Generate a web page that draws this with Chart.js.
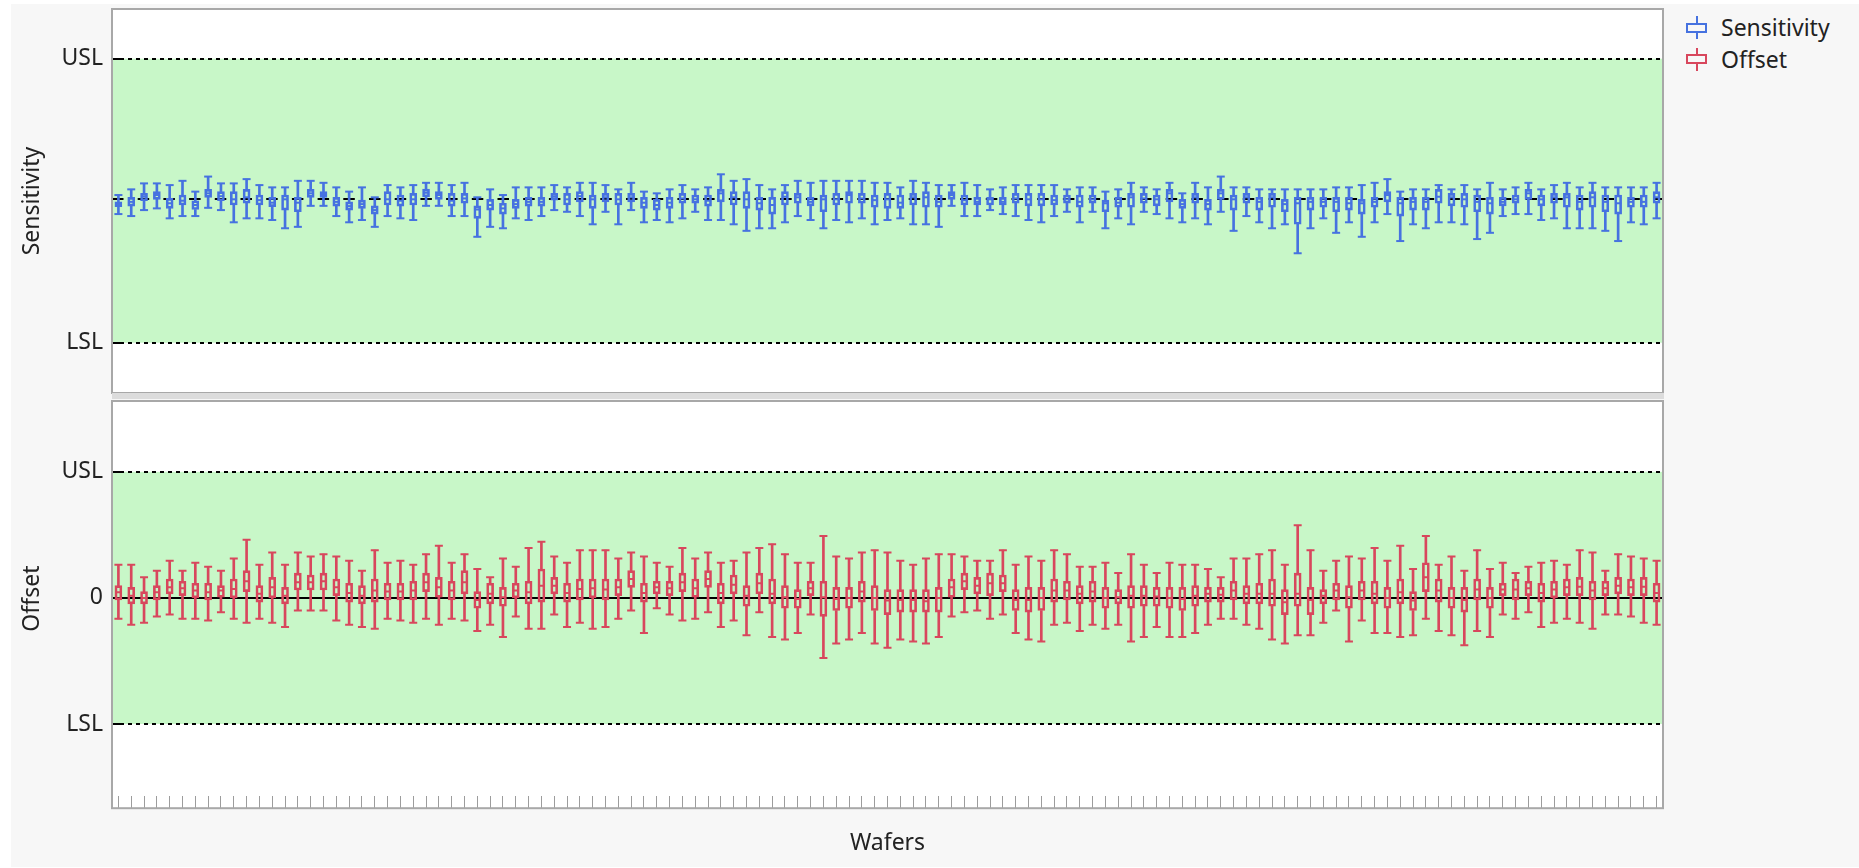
<!DOCTYPE html>
<html>
<head>
<meta charset="utf-8">
<title>Sensitivity / Offset by wafer</title>
<script src="https://cdn.jsdelivr.net/npm/chart.js@4.4.1/dist/chart.umd.min.js"></script>
<style>
  html, body { margin: 0; padding: 0; background: #ffffff; }
  body { position: relative; width: 1859px; height: 868px; overflow: hidden; font-family: "Noto Sans", sans-serif; }
  #sheet { position: absolute; left: 11px; top: 4px; width: 1848px; height: 863px; background: #f7f7f7; }
  canvas { position: absolute; left: 0; }
  #chart-sens { top: 0; }
  #chart-off { top: 395px; }
  #legend { position: absolute; left: 1685px; top: 12px; }
  #legend .item { height: 31.5px; display: flex; align-items: center; }
  #legend .icon { position: relative; width: 23px; height: 23px; margin-right: 13px; }
  #legend .icon::after { content: ""; position: absolute; left: 10.5px; top: 0; width: 2px; height: 23px; background: var(--c); }
  #legend .icon::before { content: ""; position: absolute; left: 1px; top: 6.5px; width: 21px; height: 10px; box-sizing: border-box;
    border: 2px solid var(--c); background: #f7f7f7; z-index: 1; }
  #legend .lbl { font-size: 23px; color: #222; line-height: 1; }
</style>
</head>
<body>
<div id="sheet"></div>
<canvas id="chart-sens" width="1680" height="400"></canvas>
<canvas id="chart-off" width="1680" height="473"></canvas>
<div id="legend"></div>

<script>
// ============================================
// DATA  (box plot per wafer: max, q3, median, q1, min)
// ============================================

const SERIES = ['Sensitivity', 'Offset'];
const SERIES_COLORS = ['#4672E0', '#D8475D'];

// spec limits, [LSL, USL]
const SENS_LIMITS = [-5, 5];
const SENS_TARGET = 0.05;
const OFF_LIMITS = [-10, 10];
const OFF_TARGET = 0;

const SENS_MAX = [
  0.20, 0.40, 0.61, 0.61, 0.55, 0.70, 0.32, 0.85, 0.61, 0.61,
  0.76, 0.55, 0.47, 0.47, 0.70, 0.70, 0.63, 0.47, 0.32, 0.47,
  0.12, 0.55, 0.47, 0.55, 0.63, 0.63, 0.55, 0.63, 0.12, 0.40,
  0.20, 0.47, 0.47, 0.47, 0.55, 0.47, 0.63, 0.63, 0.55, 0.40,
  0.63, 0.32, 0.26, 0.40, 0.55, 0.40, 0.47, 0.93, 0.70, 0.76,
  0.55, 0.40, 0.55, 0.70, 0.63, 0.70, 0.70, 0.70, 0.70, 0.63,
  0.63, 0.47, 0.70, 0.63, 0.55, 0.55, 0.63, 0.55, 0.40, 0.47,
  0.55, 0.55, 0.55, 0.55, 0.40, 0.47, 0.47, 0.32, 0.40, 0.63,
  0.47, 0.40, 0.63, 0.26, 0.63, 0.47, 0.85, 0.47, 0.47, 0.40,
  0.40, 0.40, 0.40, 0.40, 0.40, 0.47, 0.47, 0.55, 0.63, 0.76,
  0.32, 0.40, 0.40, 0.55, 0.40, 0.55, 0.40, 0.63, 0.40, 0.47,
  0.63, 0.40, 0.55, 0.63, 0.47, 0.63, 0.47, 0.47, 0.47, 0.47, 0.63
];
const SENS_Q3 = [
  -0.04, 0.12, 0.26, 0.32, 0.08, 0.20, 0.00, 0.40, 0.32, 0.32,
  0.40, 0.20, 0.12, 0.20, 0.12, 0.40, 0.32, 0.12, -0.04, 0.02,
  -0.18, 0.32, 0.20, 0.26, 0.41, 0.32, 0.26, 0.26, -0.18, 0.05,
  -0.09, 0.05, 0.12, 0.12, 0.26, 0.26, 0.32, 0.20, 0.26, 0.26,
  0.26, 0.12, 0.05, 0.12, 0.26, 0.20, 0.20, 0.40, 0.32, 0.32,
  0.12, 0.12, 0.32, 0.26, 0.12, 0.20, 0.26, 0.32, 0.26, 0.20,
  0.26, 0.20, 0.26, 0.32, 0.20, 0.32, 0.20, 0.12, 0.12, 0.12,
  0.26, 0.26, 0.26, 0.20, 0.20, 0.20, 0.20, 0.02, 0.12, 0.26,
  0.26, 0.20, 0.40, 0.05, 0.26, 0.05, 0.40, 0.20, 0.26, 0.12,
  0.26, 0.05, 0.12, 0.12, 0.12, 0.12, 0.12, 0.05, 0.12, 0.32,
  0.12, 0.12, 0.12, 0.40, 0.26, 0.26, 0.20, 0.12, 0.12, 0.20,
  0.40, 0.20, 0.26, 0.26, 0.20, 0.32, 0.20, 0.20, 0.12, 0.20, 0.32
];
const SENS_MED = [
  -0.12, -0.04, 0.14, 0.20, -0.09, 0.00, -0.15, 0.26, 0.16, 0.05,
  0.12, 0.02, -0.07, 0.05, -0.07, 0.26, 0.23, -0.04, -0.19, -0.12,
  -0.33, 0.05, 0.00, 0.05, 0.28, 0.20, 0.00, 0.08, -0.31, -0.15,
  -0.27, -0.12, -0.04, -0.04, 0.14, 0.05, 0.16, 0.05, 0.12, 0.05,
  0.12, -0.07, -0.15, -0.07, 0.08, 0.05, 0.00, 0.26, 0.12, 0.05,
  -0.09, -0.15, 0.14, 0.12, -0.04, 0.05, 0.05, 0.20, 0.08, 0.02,
  0.05, -0.07, 0.12, 0.12, -0.04, 0.20, 0.02, -0.04, 0.05, -0.04,
  0.08, 0.05, 0.05, 0.02, 0.05, -0.04, 0.05, -0.09, -0.07, 0.12,
  0.08, 0.05, 0.26, -0.12, 0.12, -0.12, 0.26, 0.05, 0.12, -0.04,
  0.12, -0.12, -0.09, -0.04, -0.04, -0.04, -0.09, -0.09, -0.04, 0.20,
  -0.09, -0.04, -0.04, 0.14, 0.12, 0.05, -0.04, -0.09, -0.04, 0.05,
  0.26, 0.05, 0.12, 0.12, -0.04, 0.12, -0.04, -0.09, -0.04, -0.04, 0.12
];
const SENS_Q1 = [
  -0.21, -0.19, 0.00, 0.05, -0.27, -0.15, -0.31, 0.12, 0.00, -0.15,
  -0.09, -0.15, -0.21, -0.33, -0.39, 0.12, 0.12, -0.19, -0.33, -0.27,
  -0.47, -0.15, -0.19, -0.15, 0.14, 0.05, -0.19, -0.09, -0.62, -0.33,
  -0.47, -0.27, -0.19, -0.19, 0.02, -0.15, -0.04, -0.27, -0.04, -0.15,
  -0.04, -0.27, -0.33, -0.27, -0.09, -0.09, -0.19, -0.04, -0.15, -0.27,
  -0.33, -0.47, -0.15, -0.09, -0.18, -0.39, -0.15, -0.09, -0.09, -0.23,
  -0.27, -0.27, -0.15, -0.23, -0.23, 0.05, -0.15, -0.15, -0.15, -0.15,
  -0.09, -0.18, -0.18, -0.15, -0.09, -0.23, -0.09, -0.39, -0.23, -0.23,
  -0.09, -0.18, -0.04, -0.27, -0.09, -0.33, 0.05, -0.33, -0.09, -0.33,
  -0.23, -0.39, -0.83, -0.33, -0.23, -0.39, -0.33, -0.47, -0.23, -0.04,
  -0.54, -0.33, -0.33, -0.09, -0.18, -0.23, -0.39, -0.47, -0.18, -0.09,
  0.05, -0.18, -0.09, -0.23, -0.33, -0.23, -0.39, -0.47, -0.23, -0.23, -0.09
];
const SENS_MIN = [
  -0.47, -0.54, -0.33, -0.27, -0.62, -0.54, -0.54, -0.25, -0.33, -0.76,
  -0.62, -0.62, -0.68, -0.97, -0.92, -0.18, -0.18, -0.54, -0.76, -0.68,
  -0.92, -0.54, -0.62, -0.68, -0.18, -0.18, -0.54, -0.54, -1.27, -0.92,
  -0.97, -0.62, -0.68, -0.54, -0.33, -0.39, -0.54, -0.83, -0.39, -0.83,
  -0.33, -0.76, -0.68, -0.76, -0.62, -0.39, -0.68, -0.68, -0.83, -1.06,
  -0.97, -0.97, -0.76, -0.54, -0.68, -0.97, -0.68, -0.76, -0.62, -0.83,
  -0.68, -0.62, -0.83, -0.83, -0.92, -0.18, -0.54, -0.54, -0.33, -0.47,
  -0.54, -0.68, -0.76, -0.54, -0.39, -0.76, -0.39, -0.97, -0.62, -0.83,
  -0.39, -0.47, -0.62, -0.76, -0.62, -0.83, -0.39, -1.06, -0.54, -0.76,
  -0.97, -0.83, -1.85, -0.97, -0.62, -1.13, -0.76, -1.27, -0.76, -0.47,
  -1.42, -0.83, -0.97, -0.76, -0.76, -0.83, -1.35, -1.13, -0.54, -0.47,
  -0.47, -0.68, -0.62, -0.97, -0.97, -0.97, -1.06, -1.42, -0.76, -0.83, -0.62
];

const OFF_MAX = [
  2.63, 2.63, 1.63, 2.16, 2.95, 2.16, 2.79, 2.47, 2.16, 3.13,
  4.61, 2.63, 3.61, 2.63, 3.61, 3.29, 3.47, 3.29, 2.95, 2.16,
  3.79, 2.79, 2.95, 2.63, 3.47, 4.13, 2.79, 3.47, 2.29, 1.63,
  3.13, 2.47, 3.95, 4.45, 3.29, 2.79, 3.79, 3.79, 3.79, 3.13,
  3.61, 3.29, 2.79, 2.47, 3.95, 3.13, 3.61, 2.79, 2.95, 3.61,
  3.95, 4.26, 3.47, 2.79, 2.79, 4.92, 3.29, 3.13, 3.61, 3.79,
  3.61, 2.95, 2.63, 3.13, 3.47, 3.47, 3.29, 2.95, 2.95, 3.79,
  2.63, 3.29, 2.95, 3.79, 3.47, 2.47, 2.47, 2.79, 1.97, 3.47,
  2.63, 1.97, 2.79, 2.63, 2.63, 2.29, 1.63, 3.13, 3.13, 3.47,
  3.79, 2.63, 5.76, 3.79, 2.16, 2.95, 3.29, 3.13, 3.95, 2.95,
  4.13, 2.29, 4.92, 2.63, 3.29, 2.16, 3.79, 2.29, 2.79, 1.97,
  2.47, 2.79, 2.95, 2.63, 3.79, 3.61, 2.16, 3.47, 3.29, 3.13, 2.95
];
const OFF_Q3 = [
  0.97, 0.84, 0.50, 0.97, 1.50, 1.32, 1.16, 1.16, 0.97, 1.50,
  2.16, 0.97, 1.63, 0.84, 1.97, 1.82, 1.97, 1.50, 1.16, 0.97,
  1.50, 1.16, 1.16, 1.32, 1.97, 1.63, 1.32, 2.16, 0.50, 1.16,
  0.84, 1.16, 1.32, 2.29, 1.63, 1.16, 1.50, 1.50, 1.50, 1.50,
  2.16, 1.16, 1.32, 1.32, 1.97, 1.50, 2.16, 1.16, 1.82, 0.97,
  1.97, 1.50, 0.97, 0.66, 1.32, 1.32, 0.84, 0.84, 1.32, 0.97,
  0.66, 0.66, 0.66, 0.66, 0.84, 1.50, 1.97, 1.63, 1.97, 1.82,
  0.66, 0.84, 0.84, 1.50, 1.32, 0.97, 1.32, 0.84, 0.66, 0.97,
  0.97, 0.84, 0.84, 0.84, 0.97, 0.84, 0.84, 1.32, 0.97, 1.16,
  1.50, 0.66, 1.97, 0.84, 0.66, 1.16, 0.97, 1.32, 1.32, 0.84,
  1.50, 0.50, 2.79, 1.50, 0.84, 0.84, 1.50, 0.84, 1.16, 1.50,
  1.32, 1.16, 1.32, 1.50, 1.63, 1.32, 1.32, 1.63, 1.50, 1.63, 1.16
];
const OFF_MED = [
  0.45, 0.18, 0.00, 0.45, 0.84, 0.76, 0.58, 0.45, 0.58, 0.71,
  1.32, 0.32, 0.84, 0.18, 1.24, 1.24, 1.32, 0.84, 0.39, 0.18,
  0.58, 0.50, 0.50, 0.58, 1.24, 0.84, 0.58, 1.24, -0.16, 0.32,
  0.05, 0.58, 0.45, 0.97, 0.97, 0.39, 0.71, 0.76, 0.66, 0.84,
  1.50, 0.39, 0.84, 0.76, 1.24, 0.76, 1.50, 0.39, 1.05, 0.18,
  1.16, 0.32, 0.05, -0.08, 0.76, 0.05, -0.08, 0.00, 0.50, 0.00,
  -0.21, -0.16, -0.16, -0.26, 0.00, 0.84, 1.32, 0.97, 1.16, 1.16,
  -0.16, -0.16, 0.00, 0.58, 0.58, 0.32, 0.50, 0.00, 0.05, 0.18,
  0.18, 0.11, 0.00, -0.08, 0.18, 0.32, 0.26, 0.58, 0.32, 0.32,
  0.32, -0.34, 0.32, -0.16, 0.18, 0.58, 0.05, 0.58, 0.32, 0.00,
  0.45, -0.21, 1.63, 0.58, 0.00, -0.16, 0.66, 0.00, 0.66, 0.66,
  0.76, 0.39, 0.66, 0.84, 0.89, 0.58, 0.76, 0.97, 0.84, 0.89, 0.39
];
const OFF_Q1 = [
  -0.16, -0.47, -0.47, -0.16, 0.32, 0.18, 0.00, -0.16, 0.05, 0.00,
  0.50, -0.34, 0.00, -0.47, 0.63, 0.63, 0.63, 0.18, -0.34, -0.47,
  -0.34, -0.16, -0.16, -0.16, 0.50, 0.05, -0.16, 0.32, -0.82, -0.47,
  -0.66, 0.00, -0.47, -0.34, 0.32, -0.34, -0.16, 0.00, -0.16, 0.18,
  0.84, -0.34, 0.32, 0.18, 0.50, 0.05, 0.84, -0.47, 0.32, -0.66,
  0.32, -0.47, -0.82, -0.82, 0.18, -1.47, -1.00, -0.82, -0.34, -1.00,
  -1.32, -1.13, -1.13, -1.13, -1.13, 0.05, 0.66, 0.32, 0.18, 0.50,
  -1.00, -1.13, -1.00, -0.34, -0.16, -0.47, -0.34, -0.82, -0.47, -0.82,
  -0.66, -0.66, -0.82, -1.00, -0.66, -0.34, -0.34, -0.16, -0.47, -0.47,
  -0.66, -1.32, -0.66, -1.32, -0.47, -0.16, -0.82, -0.16, -0.47, -0.82,
  -0.47, -1.00, 0.50, -0.34, -0.82, -1.13, -0.16, -0.82, 0.18, -0.16,
  0.18, -0.34, 0.00, 0.18, 0.18, -0.16, 0.18, 0.32, 0.18, 0.18, -0.34
];
const OFF_MIN = [
  -1.66, -2.13, -1.97, -1.47, -1.32, -1.66, -1.66, -1.79, -1.13, -1.66,
  -1.97, -1.66, -1.97, -2.30, -1.00, -1.00, -1.00, -1.79, -2.13, -2.30,
  -2.45, -1.66, -1.79, -1.97, -1.66, -2.13, -1.66, -1.79, -2.63, -2.13,
  -3.11, -1.47, -2.45, -2.45, -1.32, -2.30, -1.97, -2.45, -2.30, -1.66,
  -1.00, -2.79, -0.82, -1.32, -1.79, -1.66, -1.13, -2.30, -1.79, -2.97,
  -1.13, -3.11, -3.29, -2.79, -1.32, -4.76, -3.61, -3.29, -2.79, -3.61,
  -3.95, -3.29, -3.45, -3.61, -3.11, -1.47, -1.13, -1.00, -1.66, -1.32,
  -2.79, -3.29, -3.45, -2.13, -1.97, -2.63, -2.13, -2.45, -2.13, -3.45,
  -3.11, -2.30, -3.11, -3.11, -2.79, -2.13, -1.66, -1.66, -2.13, -2.45,
  -3.29, -3.61, -2.97, -2.97, -1.97, -1.00, -3.45, -1.79, -2.79, -2.79,
  -3.11, -2.97, -1.66, -2.63, -2.97, -3.76, -2.63, -3.11, -1.32, -1.66,
  -1.13, -2.30, -1.97, -1.66, -1.97, -2.45, -1.32, -1.32, -1.47, -1.97, -2.13
];

const WAFERS = SENS_MED.map((_, i) => 'W' + String(i + 1).padStart(3, '0'));

// ============================================
// PANEL DECORATION PLUGIN (spec band, limit lines, frame)
// ============================================

const specPanel = {
  id: 'specPanel',
  beforeDraw(chart, args, o) {
    const { ctx, chartArea: a } = chart;
    const y = chart.scales.y;
    const bottom = a.bottom + o.tickRoom;
    const yu = y.getPixelForValue(o.usl);
    const yl = y.getPixelForValue(o.lsl);
    ctx.save();
    ctx.fillStyle = '#ffffff';
    ctx.fillRect(a.left, a.top, a.width, bottom - a.top);
    ctx.fillStyle = '#c8f7c8';
    ctx.fillRect(a.left, yu, a.width, yl - yu);
    ctx.restore();
  },
  beforeDatasetsDraw(chart, args, o) {
    const { ctx, chartArea: a } = chart;
    const y = chart.scales.y;
    ctx.save();
    ctx.strokeStyle = '#000000';
    ctx.lineWidth = 2;

    // USL / LSL dotted
    ctx.setLineDash([4, 4]);
    [o.usl, o.lsl].forEach(v => {
      const py = Math.round(y.getPixelForValue(v));
      ctx.beginPath();
      ctx.moveTo(a.left, py);
      ctx.lineTo(a.right, py);
      ctx.stroke();
    });

    // target / centre line
    ctx.setLineDash(o.targetDash);
    const pt = Math.round(y.getPixelForValue(o.target));
    ctx.beginPath();
    ctx.moveTo(a.left, pt);
    ctx.lineTo(a.right, pt);
    ctx.stroke();

    // short inward ticks at the labelled values
    ctx.setLineDash([]);
    [o.usl, o.lsl].forEach(v => {
      const py = Math.round(y.getPixelForValue(v));
      ctx.beginPath();
      ctx.moveTo(a.left, py);
      ctx.lineTo(a.left + 12, py);
      ctx.stroke();
    });
    ctx.restore();
  },
  afterDraw(chart, args, o) {
    const { ctx, chartArea: a } = chart;
    const bottom = a.bottom + o.tickRoom;
    ctx.save();
    ctx.strokeStyle = '#a8a8a8';
    ctx.lineWidth = 2;
    ctx.strokeRect(a.left, a.top, a.width, bottom - a.top);
    if (o.separator) {
      ctx.fillStyle = '#dcdcdc';
      ctx.fillRect(a.left, a.bottom, a.width + 1, 6);
    }
    ctx.restore();
  }
};

// ============================================
// BUILDERS
// ============================================

const FONT = { family: '"Noto Sans", sans-serif', size: 23, lineHeight: 1.2 };

function pairs(lo, hi) {
  return lo.map((v, i) => [v, hi[i]]);
}

function boxDatasets(name, color, mins, q1s, meds, q3s, maxs) {
  const bar = { type: 'bar', grouped: false, borderSkipped: false };
  const tick = { type: 'line', showLine: false, pointStyle: 'line', borderColor: color,
    pointBorderColor: color, pointBorderWidth: 2, pointHoverRadius: 0 };
  return [
    { ...tick, label: name + ' median', data: meds, pointRadius: 3 },
    { ...tick, label: name + ' max', data: maxs, pointRadius: 4 },
    { ...tick, label: name + ' min', data: mins, pointRadius: 4 },
    { ...bar, label: name, data: pairs(q1s, q3s), backgroundColor: 'rgba(0,0,0,0)',
      borderColor: color, borderWidth: 2, barThickness: 7 },
    { ...bar, label: name + ' upper', data: pairs(q3s, maxs), backgroundColor: color,
      borderWidth: 0, barThickness: 2 },
    { ...bar, label: name + ' lower', data: pairs(mins, q1s), backgroundColor: color,
      borderWidth: 0, barThickness: 2 }
  ];
}

function makePanel(canvasId, cfg) {
  const tickValues = cfg.tickLabels.map(t => t[0]);
  const tickText = new Map(cfg.tickLabels);
  return new Chart(document.getElementById(canvasId), {
    type: 'bar',
    data: { labels: WAFERS, datasets: cfg.datasets },
    options: {
      responsive: false,
      animation: false,
      events: [],
      layout: { padding: cfg.padding },
      scales: {
        x: {
          type: 'category',
          offset: true,
          display: cfg.showX,
          grid: { display: true, drawOnChartArea: false, drawTicks: true, tickLength: 12,
            offset: false, color: '#9c9c9c', lineWidth: 1 },
          border: { display: false },
          ticks: { display: false, autoSkip: false },
          title: { display: true, text: 'Wafers', color: '#222', font: FONT,
            padding: { top: 21, bottom: 4 } }
        },
        y: {
          type: 'linear',
          min: cfg.range[0],
          max: cfg.range[1],
          grid: { display: false },
          border: { display: false },
          afterBuildTicks: s => { s.ticks = tickValues.map(v => ({ value: v })); },
          afterFit: s => {
            s.width = 112;
            s.paddingTop = 0;
            s.paddingBottom = 0;
          },
          ticks: { color: '#222', font: FONT, padding: 1, autoSkip: false,
            callback: v => tickText.get(v) },
          title: { display: true, text: cfg.title, color: '#222', font: FONT,
            padding: { top: 19, bottom: 0 } }
        }
      },
      plugins: {
        legend: { display: false },
        tooltip: { enabled: false },
        specPanel: cfg.spec
      }
    },
    plugins: [specPanel]
  });
}

// ============================================
// RENDER
// ============================================

makePanel('chart-sens', {
  title: SERIES[0],
  range: [-6.77, 6.75],
  padding: { top: 9, right: 17, bottom: 7, left: 0 },
  showX: false,
  tickLabels: [[SENS_LIMITS[0], 'LSL'], [SENS_LIMITS[1], 'USL']],
  spec: { lsl: SENS_LIMITS[0], usl: SENS_LIMITS[1], target: SENS_TARGET,
    targetDash: [11.5, 14.2], tickRoom: 0, separator: true },
  datasets: boxDatasets(SERIES[0], SERIES_COLORS[0], SENS_MIN, SENS_Q1, SENS_MED, SENS_Q3, SENS_MAX)
});

makePanel('chart-off', {
  title: SERIES[1],
  range: [-15.73, 15.62],
  padding: { top: 0, right: 17, bottom: 7.2, left: 0 },
  showX: true,
  tickLabels: [[OFF_LIMITS[0], 'LSL'], [OFF_TARGET, '0'], [OFF_LIMITS[1], 'USL']],
  spec: { lsl: OFF_LIMITS[0], usl: OFF_LIMITS[1], target: OFF_TARGET,
    targetDash: [], tickRoom: 12, separator: false },
  datasets: boxDatasets(SERIES[1], SERIES_COLORS[1], OFF_MIN, OFF_Q1, OFF_MED, OFF_Q3, OFF_MAX)
});

// legend
const legend = document.getElementById('legend');
SERIES.forEach((name, i) => {
  const item = document.createElement('div');
  item.className = 'item';
  item.innerHTML = `<span class="icon" style="--c:${SERIES_COLORS[i]}"></span><span class="lbl">${name}</span>`;
  legend.appendChild(item);
});
</script>
</body>
</html>
